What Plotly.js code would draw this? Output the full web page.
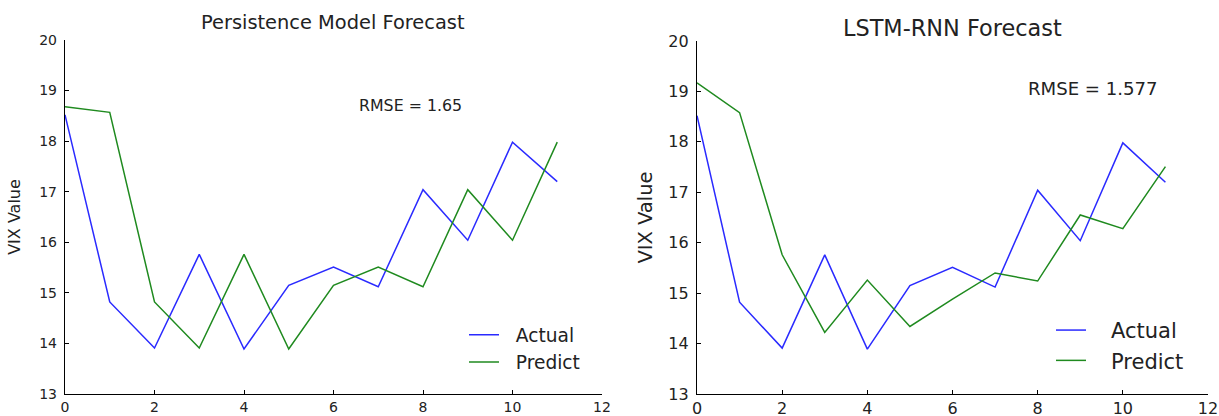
<!DOCTYPE html>
<html><head><meta charset="utf-8">
<script src="https://cdn.plot.ly/plotly-3.0.1.min.js"></script>
<style>body{margin:0;background:#fff}#c{width:1219px;height:416px}</style>
</head><body><div id="c"></div>
<script>
const steps = [0,1,2,3,4,5,6,7,8,9,10,11];
const actual = [18.52, 14.82, 13.91, 15.76, 13.89, 15.15, 15.51, 15.12, 17.04, 16.04, 17.98, 17.2];
const persistencePredict = [18.68, 18.57, 14.82, 13.91, 15.76, 13.89, 15.15, 15.51, 15.12, 17.04, 16.04, 17.98];
const lstmPredict = [19.17, 18.58, 15.76, 14.22, 15.26, 14.34, 14.88, 15.40, 15.24, 16.55, 16.28, 17.51];
const seriesNames = ["Actual", "Predict"];
const titles = ["Persistence Model Forecast", "LSTM-RNN Forecast"];
const rmseLabels = ["RMSE = 1.65", "RMSE = 1.577"];
const xTicks = [0,2,4,6,8,10,12];
const yTicks = [13,14,15,16,17,18,19,20];

const F = "DejaVu Sans, sans-serif";
const BLUE = "#2a2aff", GREEN = "#1f8a1f";
const pad = n => "\u00a0".repeat(n);

const traces = [
  {x: steps, y: actual, name: pad(2) + seriesNames[0], mode: "lines", line: {color: BLUE, width: 1.5}, xaxis: "x", yaxis: "y", legend: "legend"},
  {x: steps, y: persistencePredict, name: pad(2) + seriesNames[1], mode: "lines", line: {color: GREEN, width: 1.5}, xaxis: "x", yaxis: "y", legend: "legend"},
  {x: steps, y: actual, name: pad(3) + seriesNames[0], mode: "lines", line: {color: BLUE, width: 1.5}, xaxis: "x2", yaxis: "y2", legend: "legend2"},
  {x: steps, y: lstmPredict, name: pad(3) + seriesNames[1], mode: "lines", line: {color: GREEN, width: 1.5}, xaxis: "x2", yaxis: "y2", legend: "legend2"}
];

function xa(dom, fs) {
  return {domain: dom, range: [0, 12], tickvals: xTicks, ticktext: xTicks.map(String),
    showline: true, linecolor: "#000", linewidth: 1.2, ticks: "inside", ticklen: 4, tickcolor: "#000",
    showgrid: false, zeroline: false, tickfont: {family: F, size: fs, color: "#222"}, fixedrange: true};
}
function ya(dom, fs, tfs, anchor, standoff) {
  return {domain: dom, range: [13, 20], tickvals: yTicks, ticktext: yTicks.map(String), anchor: anchor,
    showline: true, linecolor: "#000", linewidth: 1.2, ticks: "inside", ticklen: 4, tickcolor: "#000",
    showgrid: false, zeroline: false, tickfont: {family: F, size: fs, color: "#222"}, ticklabelstandoff: 4,
    title: {text: "VIX Value", font: {family: F, size: tfs, color: "#222"}, standoff: standoff}, fixedrange: true};
}

const layout = {
  width: 1219, height: 416, margin: {l: 0, r: 0, t: 0, b: 0},
  paper_bgcolor: "#fff", plot_bgcolor: "#fff",
  xaxis: xa([65/1219, 602/1219], 14),
  yaxis: ya([22/416, 376/416], 14, 16, "x", 14),
  xaxis2: Object.assign(xa([697/1219, 1208/1219], 16), {anchor: "y2"}),
  yaxis2: ya([22/416, 375/416], 16, 19.5, "x2", 10),
  legend: {x: 464/1219, y: 0.24, xanchor: "left", yanchor: "top", font: {family: F, size: 18.6, color: "#222"}, bgcolor: "rgba(0,0,0,0)"},
  legend2: {x: 1051/1219, y: 0.255, xanchor: "left", yanchor: "top", font: {family: F, size: 21, color: "#222"}, bgcolor: "rgba(0,0,0,0)"},
  annotations: [
    {text: titles[0], xref: "paper", yref: "paper", x: 333/1219, y: (416-22)/416, xanchor: "center", yanchor: "middle", showarrow: false, font: {family: F, size: 19.4, color: "#222"}},
    {text: titles[1], xref: "paper", yref: "paper", x: 952/1219, y: (416-28)/416, xanchor: "center", yanchor: "middle", showarrow: false, font: {family: F, size: 22.4, color: "#222"}},
    {text: rmseLabels[0], xref: "x", yref: "y", x: 7.71, y: 18.71, xanchor: "center", yanchor: "middle", showarrow: false, font: {family: F, size: 15.8, color: "#222"}},
    {text: rmseLabels[1], xref: "x2", yref: "y2", x: 9.3, y: 19.05, xanchor: "center", yanchor: "middle", showarrow: false, font: {family: F, size: 18.1, color: "#222"}}
  ]
};
Plotly.newPlot("c", traces, layout, {displayModeBar: false, staticPlot: true});
</script></body></html>
